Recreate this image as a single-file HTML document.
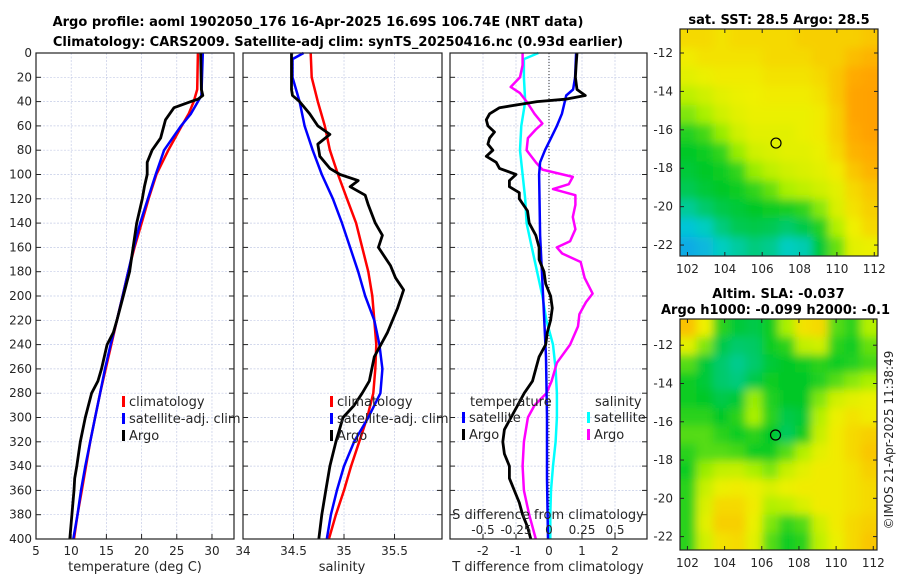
<!DOCTYPE html>
<html><head><meta charset="utf-8"><style>
body{margin:0;background:#fff;}
svg{display:block;font-family:"DejaVu Sans","Liberation Sans",sans-serif;}
.tick{font-size:12px;fill:#262626;}
.ttl{font-size:13px;font-weight:bold;fill:#000;}
</style></head><body>
<svg id="fig" width="900" height="580" viewBox="0 0 900 580"></svg>
<script>
// ---------- data ----------
const depthTicks=[0,20,40,60,80,100,120,140,160,180,200,220,240,260,280,300,320,340,360,380,400];
const tempTicks=[5,10,15,20,25,30];
const salTicks=[34,34.5,35,35.5];
const tdTicks=[-2,-1,0,1,2];
const sdTicks=[-0.5,-0.25,0,0.25,0.5];
const sdTickLabels=["-0.5","-0.25","0","0.25","0.5"];
const lonTicks=[102,104,106,108,110,112];
const latTicks=[-12,-14,-16,-18,-20,-22];
// temperature profiles [depth, T]
const tClimD=[0,30,40,50,60,80,100,120,140,160,180,200,220,240,260,280,300,320,340,360,380,400];
const tClimV=[28.0,27.9,27.4,26.7,25.7,23.8,22.1,21.0,20.0,19.0,18.1,17.3,16.5,15.7,14.9,14.1,13.4,12.7,12.1,11.5,10.9,10.4];
const tSatD=[0,35,40,50,60,80,100,120,140,160,180,200,220,240,260,280,300,320,340,360,380,400];
const tSatV=[28.7,28.5,28.0,27.0,25.6,23.2,22.0,20.9,19.8,18.9,18.1,17.3,16.5,15.6,14.8,14.1,13.4,12.7,12.0,11.4,10.9,10.3];
const tArgoD=[0,30,35,38,40,45,50,55,70,80,90,100,110,120,140,160,180,200,220,230,240,260,270,280,300,320,340,350,360,380,400];
const tArgoV=[28.4,28.5,28.7,28.0,27.0,24.6,24.0,23.4,22.7,21.5,20.8,20.8,20.4,20.1,19.3,18.8,18.3,17.4,16.5,16.0,15.1,14.3,13.8,12.9,12.0,11.3,10.8,10.5,10.4,10.1,9.8];
// salinity profiles
const sClimD=[0,20,40,60,80,100,120,140,160,180,200,240,260,280,300,320,340,360,380,400];
const sClimV=[34.67,34.68,34.74,34.81,34.86,34.94,35.03,35.12,35.18,35.24,35.28,35.32,35.31,35.29,35.23,35.15,35.07,35.0,34.92,34.85];
const sSatD=[0,5,20,40,60,80,100,120,140,160,180,200,220,240,260,280,300,320,340,360,380,400];
const sSatV=[34.6,34.49,34.49,34.56,34.61,34.69,34.78,34.89,34.98,35.06,35.14,35.21,35.3,35.35,35.38,35.36,35.24,35.1,35.0,34.93,34.87,34.83];
const sArgoD=[0,30,35,40,50,60,67,75,85,95,100,105,110,117,125,140,150,160,175,185,195,210,230,250,270,280,290,300,320,340,360,380,400];
const sArgoV=[34.48,34.48,34.49,34.56,34.66,34.74,34.86,34.74,34.76,34.86,34.96,35.14,35.06,35.21,35.24,35.31,35.38,35.34,35.46,35.51,35.59,35.53,35.43,35.3,35.25,35.18,35.1,34.99,34.92,34.86,34.82,34.78,34.75];
// differences
const dTArgoD=[0,10,20,30,35,38,40,45,50,55,60,65,70,75,80,85,90,95,100,105,110,115,120,130,140,150,160,170,180,190,200,210,220,230,240,250,260,270,280,290,300,310,320,330,340,350,360,370,380,390,400];
const dTArgoV=[0.85,0.82,0.8,0.85,1.1,0.5,-0.36,-1.5,-1.8,-1.9,-1.85,-1.65,-1.8,-1.85,-1.7,-1.9,-1.6,-1.5,-1.0,-1.2,-1.2,-0.9,-0.9,-0.65,-0.6,-0.4,-0.3,-0.3,-0.15,-0.1,0.05,0.1,0.05,-0.05,-0.1,-0.3,-0.4,-0.5,-0.75,-0.95,-1.15,-1.35,-1.4,-1.35,-1.2,-1.2,-1.05,-0.9,-0.8,-0.65,-0.55];
const dTSatD=[0,20,30,35,40,50,60,70,80,90,100,150,200,250,300,350,400];
const dTSatV=[0.82,0.79,0.73,0.52,0.48,0.39,0.24,0.06,-0.12,-0.27,-0.3,-0.27,-0.18,-0.09,-0.06,-0.06,-0.03];
const dSSatD=[0,5,20,40,60,80,100,120,140,160,180,200,220,240,260,280,300,320,340,360,380,400];
const dSSatV=[-0.08,-0.19,-0.19,-0.18,-0.21,-0.22,-0.2,-0.18,-0.17,-0.13,-0.09,-0.05,-0.02,0.03,0.05,0.06,0.06,0.05,0.03,0.015,0.01,0.01];
const dSArgoD=[0,10,20,28,33,40,50,58,63,70,80,90,96,102,108,112,117,125,135,145,155,160,165,172,185,198,205,215,225,240,255,270,280,290,300,320,340,360,380,400];
const dSArgoV=[-0.2,-0.2,-0.22,-0.29,-0.22,-0.17,-0.11,-0.05,-0.1,-0.16,-0.17,-0.1,-0.05,0.18,0.15,0.03,0.2,0.2,0.18,0.2,0.16,0.06,0.1,0.24,0.27,0.33,0.28,0.23,0.22,0.16,0.06,0.02,-0.02,-0.11,-0.16,-0.19,-0.2,-0.19,-0.15,-0.1];
// maps (normalised colour values, rows north->south)
const sstGrid=[
[.8,.8,.78,.8,.8,.8,.8,.82,.82,.82,.82,.84],
[.76,.78,.78,.78,.78,.8,.8,.8,.82,.82,.86,.88],
[.72,.74,.76,.76,.76,.78,.78,.78,.8,.84,.9,.92],
[.64,.68,.72,.74,.75,.76,.76,.76,.78,.84,.92,.93],
[.55,.6,.68,.72,.74,.74,.74,.74,.76,.82,.92,.93],
[.44,.48,.58,.68,.72,.72,.72,.74,.76,.82,.9,.93],
[.4,.42,.46,.58,.68,.7,.72,.72,.74,.8,.88,.9],
[.38,.4,.42,.46,.58,.64,.68,.7,.72,.76,.84,.88],
[.35,.38,.4,.42,.46,.52,.6,.64,.68,.72,.8,.84],
[.27,.32,.36,.38,.4,.42,.43,.46,.56,.7,.78,.82],
[.18,.22,.3,.35,.36,.35,.32,.36,.44,.62,.75,.8],
[.12,.15,.22,.26,.3,.28,.22,.24,.38,.52,.72,.74]];
const slaGrid=[
[.85,.75,.45,.38,.36,.42,.6,.78,.8,.5,.45,.62],
[.72,.55,.36,.32,.33,.42,.45,.65,.68,.45,.42,.52],
[.5,.38,.32,.28,.32,.38,.4,.42,.45,.42,.44,.48],
[.42,.38,.32,.3,.36,.42,.4,.4,.44,.5,.56,.6],
[.42,.4,.36,.38,.58,.44,.4,.4,.55,.68,.72,.74],
[.45,.45,.4,.45,.6,.45,.36,.38,.62,.74,.78,.76],
[.5,.5,.45,.42,.45,.4,.34,.42,.66,.76,.8,.82],
[.45,.5,.5,.48,.42,.42,.5,.62,.72,.76,.8,.84],
[.42,.58,.65,.66,.6,.55,.66,.72,.76,.76,.78,.82],
[.45,.66,.74,.76,.74,.7,.74,.76,.76,.76,.78,.8],
[.45,.7,.8,.8,.76,.62,.64,.7,.76,.76,.78,.8],
[.45,.72,.82,.82,.74,.55,.46,.5,.68,.76,.8,.82],
[.45,.68,.78,.8,.72,.5,.42,.45,.64,.74,.8,.84]];
const argoLon=106.74, argoLat=-16.69;

// ---------- helpers ----------
const NS="http://www.w3.org/2000/svg";
const svg=document.getElementById('fig');
function mk(tag,attrs,parent){const e=document.createElementNS(NS,tag);for(const k in attrs)e.setAttribute(k,attrs[k]);(parent||svg).appendChild(e);return e;}
function txt(x,y,s,cls,anchor,parent,extra){const t=mk('text',Object.assign({x:x,y:y,class:cls||'tick','text-anchor':anchor||'middle'},extra||{}),parent);t.textContent=s;return t;}
const Y0=53,Y1=539;
const yD=d=>Y0+(Y1-Y0)*d/400;

function panel(name,x0,x1,xmin,xmax,xt,xtl,showY){
  const g=mk('g',{});
  
  
  const xs=v=>x0+(v-xmin)/(xmax-xmin)*(x1-x0);
  depthTicks.forEach(d=>{mk('line',{x1:x0,x2:x1,y1:yD(d),y2:yD(d),stroke:'#c4cbe6','stroke-width':0.7,'stroke-dasharray':'2,1.5'},g);
    mk('line',{x1:x0,x2:x0+5,y1:yD(d),y2:yD(d),stroke:'#222'},g);mk('line',{x1:x1-5,x2:x1,y1:yD(d),y2:yD(d),stroke:'#222'},g);
    if(showY)txt(x0-4,yD(d)+4,String(d),'tick','end',g);});
  xt.forEach((v,i)=>{const x=xs(v);mk('line',{x1:x,x2:x,y1:Y0,y2:Y1,stroke:'#c4cbe6','stroke-width':0.7,'stroke-dasharray':'2,1.5'},g);
    mk('line',{x1:x,x2:x,y1:Y1,y2:Y1-5,stroke:'#222'},g);
    if(xtl)txt(x,Y1+16,xtl[i],'tick','middle',g);});
  return {g,xs};
}
function line(g,xs,D,V,color,w,name){
  const p=D.map((d,i)=>xs(V[i]).toFixed(1)+','+yD(d).toFixed(1)).join(' ');
  const l=mk('polyline',{points:p,fill:'none',stroke:color,'stroke-width':w,'stroke-linejoin':'round'},g);
  
  
}
function frame(g,x0,x1){mk('rect',{x:x0,y:Y0,width:x1-x0,height:Y1-Y0,fill:'none',stroke:'#222','stroke-width':1.2},g);}
function legend(g,x,y,items){items.forEach((it,i)=>{const yy=y+i*17;mk('rect',{x:x,y:yy-10,width:3,height:11,fill:it[1]},g);const t=txt(x+7,yy,it[0],'tick','start',g,{style:'font-size:13px'});});}

// titles
let t=txt(318,26,'Argo profile: aoml 1902050_176 16-Apr-2025 16.69S 106.74E (NRT data)','ttl');

t=txt(338,46,'Climatology: CARS2009. Satellite-adj clim: synTS_20250416.nc (0.93d earlier)','ttl');


// panel 1 temperature
let P=panel('temperature-panel',36,234,5,33.13,tempTicks,tempTicks.map(String),true);
line(P.g,P.xs,tClimD,tClimV,'#ff0000',2.5,'climatology-temp-line');
line(P.g,P.xs,tSatD,tSatV,'#0000ff',2.5,'satellite-temp-line');
line(P.g,P.xs,tArgoD,tArgoV,'#000000',2.8,'argo-temp-line');
frame(P.g,36,234);
legend(P.g,122,406,[['climatology','#ff0000'],['satellite-adj. clim','#0000ff'],['Argo','#000']]);
t=txt(135,571,'temperature (deg C)','tick','middle',P.g,{style:'font-size:13px'});

// panel 2 salinity
P=panel('salinity-panel',243,442,34,35.97,salTicks,['34','34.5','35','35.5'],false);
line(P.g,P.xs,sClimD,sClimV,'#ff0000',2.5,'climatology-sal-line');
line(P.g,P.xs,sSatD,sSatV,'#0000ff',2.5,'satellite-sal-line');
line(P.g,P.xs,sArgoD,sArgoV,'#000000',2.8,'argo-sal-line');
frame(P.g,243,442);
legend(P.g,330,406,[['climatology','#ff0000'],['satellite-adj. clim','#0000ff'],['Argo','#000']]);
t=txt(342,571,'salinity','tick','middle',P.g,{style:'font-size:13px'});

// panel 3 differences
P=panel('difference-panel',450,647,-3,2.97,tdTicks,tdTicks.map(String),false);
const xsS=v=>P.xs(v*4);
mk('line',{x1:P.xs(0),x2:P.xs(0),y1:Y0,y2:Y1,stroke:'#333','stroke-width':1,'stroke-dasharray':'1,2'},P.g);
line(P.g,xsS,dSSatD,dSSatV,'#00ffff',2.5,'satellite-sal-diff-line');
line(P.g,xsS,dSArgoD,dSArgoV,'#ff00ff',2.5,'argo-sal-diff-line');
line(P.g,P.xs,dTSatD,dTSatV,'#0000ff',2.5,'satellite-temp-diff-line');
line(P.g,P.xs,dTArgoD,dTArgoV,'#000000',2.8,'argo-temp-diff-line');
frame(P.g,450,647);
txt(470,406,'temperature','tick','start',P.g,{style:'font-size:13px'});
txt(595,406,'salinity','tick','start',P.g,{style:'font-size:13px'});
legend(P.g,462,422,[['satellite','#0000ff'],['Argo','#000']]);
legend(P.g,587,422,[['satellite','#00ffff'],['Argo','#ff00ff']]);
txt(548,519,'S difference from climatology','tick','middle',P.g,{style:'font-size:13px'});
sdTicks.forEach((v,i)=>txt(xsS(v),534,sdTickLabels[i],'tick','middle',P.g));
t=txt(548,571,'T difference from climatology','tick','middle',P.g,{style:'font-size:13px'});

// maps
const stops=[[0,[30,120,255]],[0.2,[0,205,210]],[0.4,[0,200,40]],[0.6,[170,240,0]],[0.75,[240,240,0]],[0.9,[255,170,0]],[1,[255,140,0]]];
function cmap(v){for(let i=1;i<stops.length;i++){if(v<=stops[i][0]){const a=stops[i-1],b=stops[i],f=(v-a[0])/(b[0]-a[0]);return 'rgb('+a[1].map((c,j)=>Math.round(c+(b[1][j]-c)*f)).join(',')+')';}}return 'rgb(255,140,0)';}
function map(name,grid,x0,x1,y0,y1,latTop,latBot,title){
  const g=mk('g',{});
  
  
  const lon0=101.6,lon1=112.2;
  const xs=v=>x0+(v-lon0)/(lon1-lon0)*(x1-x0);
  const ys=v=>y0+(latTop-v)/(latTop-latBot)*(y1-y0);
  const nr=grid.length,nc=grid[0].length;
  const clip='clip-'+name;const cp=mk('clipPath',{id:clip},g);mk('rect',{x:x0,y:y0,width:x1-x0,height:y1-y0},cp);
  const f=mk('filter',{id:'bl-'+name,x:'-10%',y:'-10%',width:'120%',height:'120%'},g);mk('feGaussianBlur',{stdDeviation:4.5},f);
  const cg=mk('g',{'clip-path':'url(#'+clip+')'},g);
  const ig=mk('g',{filter:'url(#bl-'+name+')'},cg);
  const cw=(x1-x0)/nc,ch=(y1-y0)/nr;
  grid.forEach((row,r)=>row.forEach((v,c)=>{const cell=mk('rect',{x:x0+c*cw-(c==0?12:0),y:y0+r*ch-(r==0?12:0),width:cw+1+(c==0||c==nc-1?12:0),height:ch+1+(r==0||r==nr-1?12:0),fill:cmap(v)},ig);}));
  mk('rect',{x:x0,y:y0,width:x1-x0,height:y1-y0,fill:'none',stroke:'#222','stroke-width':1.2},g);
  lonTicks.forEach(v=>{mk('line',{x1:xs(v),x2:xs(v),y1:y1,y2:y1-4,stroke:'#222'},g);mk('line',{x1:xs(v),x2:xs(v),y1:y0,y2:y0+4,stroke:'#222'},g);txt(xs(v),y1+17,String(v),'tick','middle',g);});
  latTicks.forEach(v=>{mk('line',{x1:x0,x2:x0+4,y1:ys(v),y2:ys(v),stroke:'#222'},g);mk('line',{x1:x1,x2:x1-4,y1:ys(v),y2:ys(v),stroke:'#222'},g);txt(x0-7,ys(v)+4,String(v),'tick','end',g);});
  const m=mk('circle',{cx:xs(argoLon),cy:ys(argoLat),r:5,fill:'none',stroke:'#000','stroke-width':1.2},g);
  
  title.forEach((s,i)=>txt(x0+(x1-x0)/2-(i==1?3:0),y0-(title.length-i)*16+11,s,'ttl','middle',g));
}
map('sst-map',sstGrid,680,878,29,256,-10.75,-22.57,['sat. SST: 28.5 Argo: 28.5']);
map('sla-map',slaGrid,680,877,319,550,-10.63,-22.7,['Altim. SLA: -0.037','Argo h1000: -0.099 h2000: -0.1']);
t=txt(0,0,'©IMOS 21-Apr-2025 11:38:49','tick','middle',svg,{transform:'translate(893,440) rotate(-90)'});

</script>
</body></html>
